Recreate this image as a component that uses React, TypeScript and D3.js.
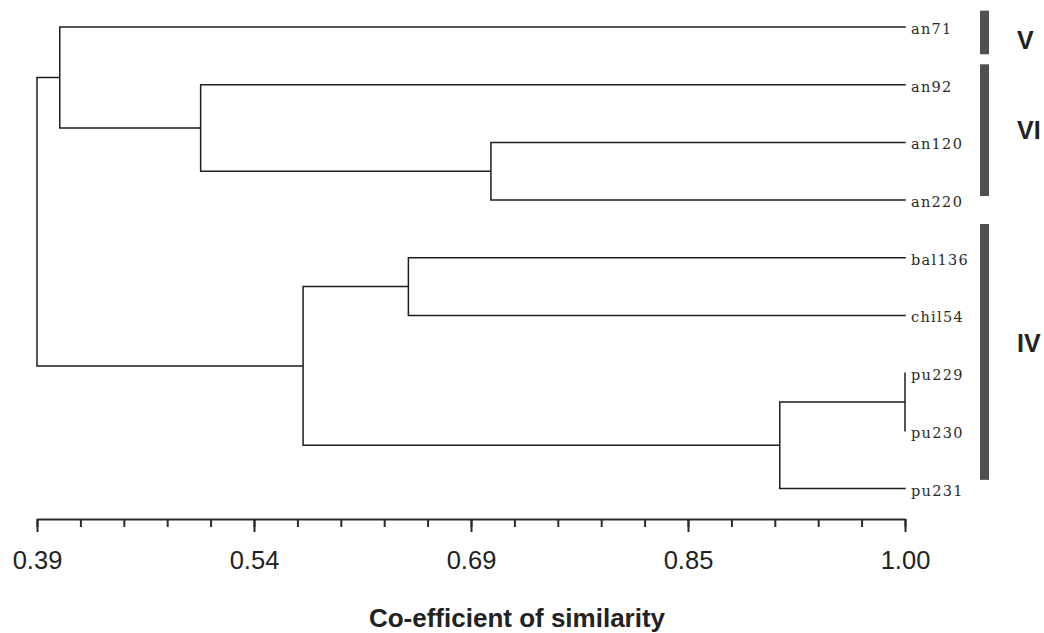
import React, { useEffect, useRef } from "react";
import * as d3 from "d3";

// leaf order, top to bottom
const leaves = ["an71", "an92", "an120", "an220", "bal136", "chil54", "pu229", "pu230", "pu231"];

// agglomeration steps: [left, right, similarity at join]; step i creates node "m{i+1}"
const merges: [string, string, number][] = [
  ["pu229", "pu230", 1.0],
  ["an120", "an220", 0.709],
  ["bal136", "chil54", 0.651],
  ["m1", "pu231", 0.912],
  ["an92", "m2", 0.505],
  ["m3", "m4", 0.577],
  ["an71", "m5", 0.406],
  ["m7", "m6", 0.39],
];

// cluster groups, spans given in leaf-index units
const groupLabels = ["V", "VI", "IV"];
const groupSpans: [number, number][] = [[-0.283, 0.473], [0.647, 2.93], [3.415, 7.85]];
const groupLabelAt = [0.225, 1.785, 5.47];

const simDomain: [number, number] = [0.39, 1.0];
const majorTickLabels = ["0.39", "0.54", "0.69", "0.85", "1.00"];

const W = 1044;
const H = 633;

type TNode = { name: string; value: number; children?: TNode[] };

function buildTree(): TNode {
  const nodes: Record<string, TNode> = {};
  leaves.forEach(l => (nodes[l] = { name: l, value: simDomain[1] }));
  merges.forEach(([a, b, v], i) => {
    const id = "m" + (i + 1);
    nodes[id] = { name: id, value: v, children: [nodes[a], nodes[b]] };
  });
  return nodes["m" + merges.length];
}

export default function App() {
  const axisRef = useRef<SVGGElement>(null);

  const x = d3.scaleLinear().domain(simDomain).range([37, 905]);
  const y = d3.scaleLinear().domain([0, leaves.length - 1]).range([27, 488.5]);

  const root = d3.hierarchy(buildTree());
  const pos = new Map<any, { px: number; py: number }>();
  root.eachAfter(n => {
    const px = x(n.data.value);
    let py: number;
    if (!n.children) py = y(leaves.indexOf(n.data.name));
    else {
      const first = pos.get(n.children[0])!.py;
      const last = pos.get(n.children[n.children.length - 1])!.py;
      py = (first + last) / 2;
    }
    pos.set(n, { px, py });
  });

  let d = "";
  root.each(n => {
    if (!n.children) return;
    const p = pos.get(n)!;
    const ys = n.children.map(c => pos.get(c)!.py);
    d += `M${p.px},${d3.min(ys)}V${d3.max(ys)}`;
    n.children.forEach(c => {
      const cp = pos.get(c)!;
      d += `M${p.px},${cp.py}H${cp.px}`;
    });
  });

  useEffect(() => {
    const g = d3.select(axisRef.current);
    g.selectAll("*").remove();
    const step = (simDomain[1] - simDomain[0]) / 20;
    const minorTicks = d3.range(21).map(i => simDomain[0] + i * step);
    const majorTicks = minorTicks.filter((_, i) => i % 5 === 0);

    g.append("g")
      .attr("class", "minor")
      .call(d3.axisBottom(x).tickValues(minorTicks).tickSize(8).tickSizeOuter(0).tickFormat(() => ""));
    g.append("g")
      .attr("class", "major")
      .call(
        d3.axisBottom(x)
          .tickValues(majorTicks)
          .tickSize(13)
          .tickSizeOuter(0)
          .tickPadding(19)
          .tickFormat((_, i) => majorTickLabels[i])
      );

    g.select(".major .domain").remove();
    g.selectAll(".domain").attr("stroke", "#2b2b2b").attr("stroke-width", 2);
    g.selectAll(".tick line").attr("stroke", "#2b2b2b").attr("stroke-width", 2);
    g.selectAll(".tick text")
      .attr("fill", "#222")
      .attr("font-family", "'Liberation Sans', Arial, sans-serif")
      .attr("font-size", 25.5);
  }, []);

  return (
    <svg
      width={W}
      height={H}
      viewBox={`0 0 ${W} ${H}`}
      style={{ position: "absolute", left: 0, top: 0, background: "#fff" }}
    >
      <path d={d} fill="none" stroke="#1e1e1e" strokeWidth={1.5} strokeLinecap="square" />

      {root.leaves().map(l => {
        const p = pos.get(l)!;
        return (
          <text
            key={l.data.name}
            x={p.px + 6}
            y={p.py + 7}
            fontFamily="'DejaVu Serif', 'Liberation Serif', serif"
            fontSize={14.5}
            letterSpacing={1.3}
            fill="#2a2a2a"
          >
            {l.data.name}
          </text>
        );
      })}

      {groupLabels.map((lab, i) => (
        <g key={lab}>
          <rect
            x={980}
            y={y(groupSpans[i][0])}
            width={9}
            height={y(groupSpans[i][1]) - y(groupSpans[i][0])}
            fill="#505050"
          />
          <text
            x={1017}
            y={y(groupLabelAt[i]) + 9}
            fontFamily="'Liberation Sans', Arial, sans-serif"
            fontWeight="bold"
            fontSize={25}
            fill="#222"
          >
            {lab}
          </text>
        </g>
      ))}

      <g ref={axisRef} transform="translate(0,519)" />

      <text
        x={517}
        y={627}
        textAnchor="middle"
        fontFamily="'Liberation Sans', Arial, sans-serif"
        fontWeight="bold"
        fontSize={26}
        fill="#222"
      >
        Co-efficient of similarity
      </text>
    </svg>
  );
}
